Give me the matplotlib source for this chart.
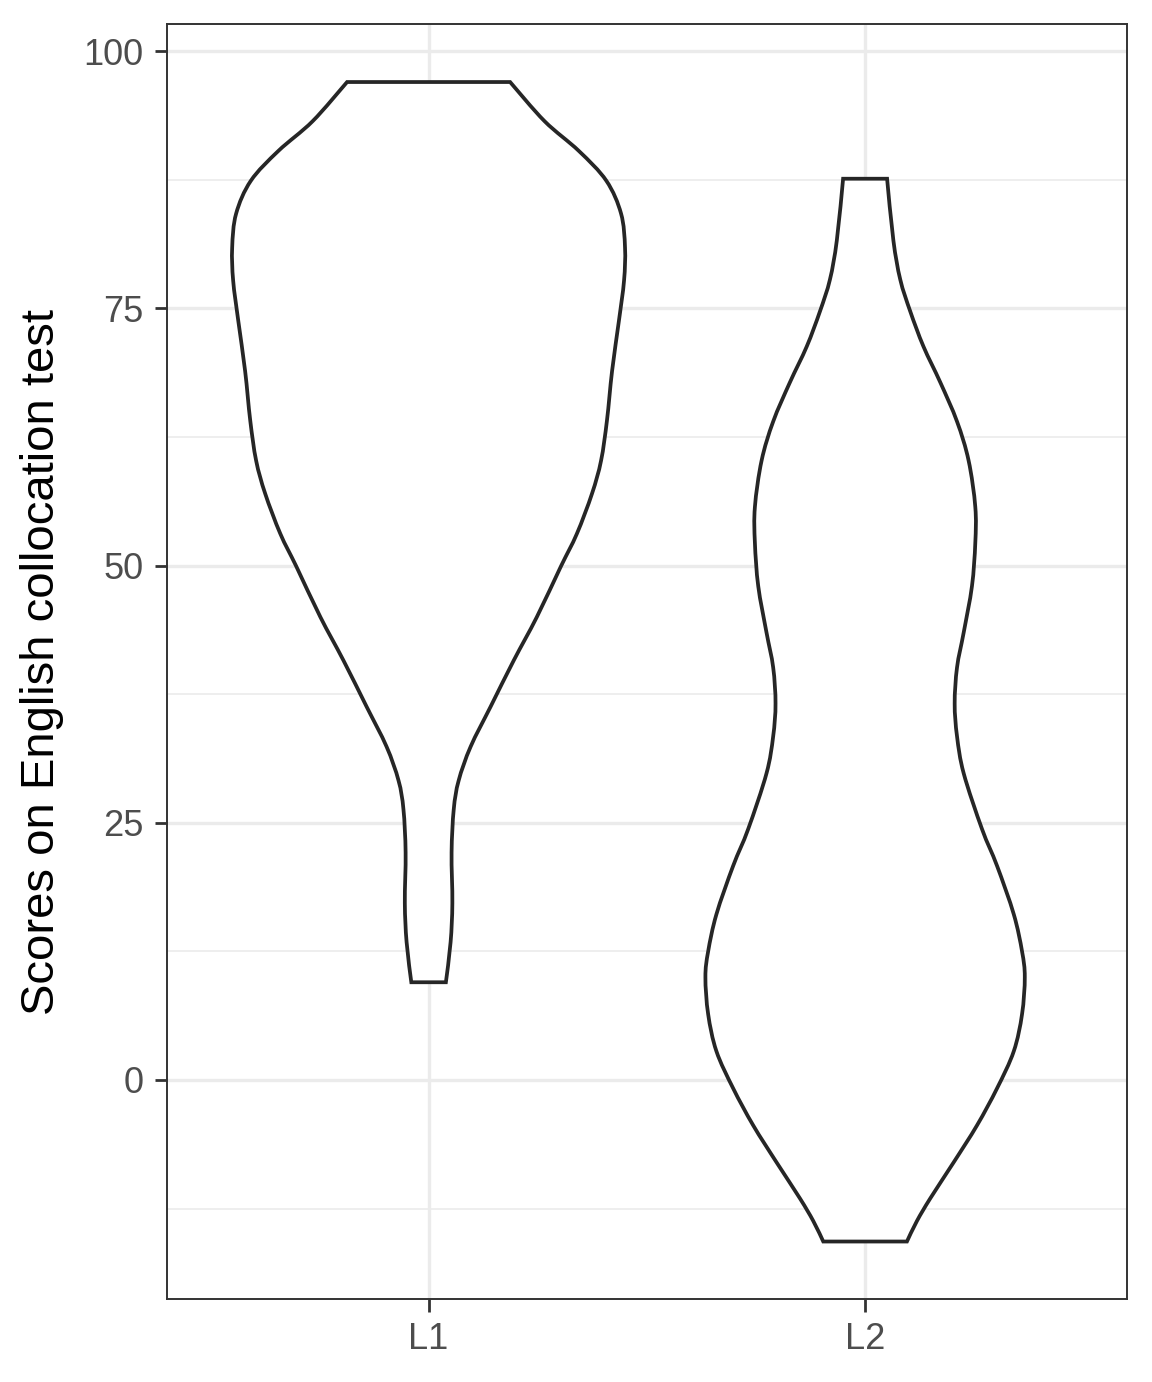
import numpy as np
import matplotlib.pyplot as plt
from matplotlib.path import Path
from matplotlib.patches import PathPatch
from matplotlib.ticker import MultipleLocator

plt.rcParams['font.family'] = ['Liberation Sans', 'DejaVu Sans']

groups = ['L1', 'L2']

# violin outlines: score level and relative density (1 = widest)
l1_score = [97.0, 93.2, 90.3, 87.4, 84.2, 80.9, 77.7, 73.8, 68.9, 64.1, 60.2, 57.0,
            53.1, 49.9, 45.0, 40.8, 36.3, 32.4, 29.1, 26.3, 22.1, 17.2, 13.4, 9.5]
l1_dens = [0.415, 0.590, 0.765, 0.905, 0.980, 1.0, 0.995, 0.969, 0.934, 0.908, 0.878, 0.832,
           0.755, 0.673, 0.551, 0.434, 0.316, 0.214, 0.153, 0.128, 0.117, 0.121, 0.112, 0.088]

l2_score = [87.6, 81.6, 77.8, 74.7, 71.3, 67.8, 64.0, 60.2, 55.7, 52.2, 48.0, 43.5, 40.1,
            36.6, 33.4, 29.8, 24.4, 20.8, 16.1, 12.5, 10.0, 6.4, 2.8, -0.8, -4.4, -8.0,
            -11.5, -13.7, -15.7]
l2_dens = [0.112, 0.144, 0.179, 0.230, 0.297, 0.383, 0.468, 0.527, 0.561, 0.561, 0.544,
           0.502, 0.468, 0.456, 0.468, 0.502, 0.595, 0.672, 0.757, 0.799, 0.813, 0.799,
           0.757, 0.672, 0.570, 0.451, 0.332, 0.264, 0.213]

scores = [l1_score, l2_score]
dens = [l1_dens, l2_dens]


def smooth_side(pts):
    # catmull-rom through the read points, as cubic bezier pieces
    pts = np.asarray(pts, dtype=float)
    ext = np.vstack([pts[0], pts, pts[-1]])
    verts, codes = [], []
    for i in range(1, len(ext) - 2):
        p0, p1, p2, p3 = ext[i - 1], ext[i], ext[i + 1], ext[i + 2]
        verts += [p1 + (p2 - p0) / 6, p2 - (p3 - p1) / 6, p2]
        codes += [Path.CURVE4] * 3
    return verts, codes


fig = plt.figure(figsize=(11.52, 13.82), dpi=100)
ax = fig.add_axes([0.1447, 0.0597, 0.8336, 0.9229])

half = 0.45
for i, (s, d) in enumerate(zip(scores, dens)):
    pos = i + 1
    s = np.array(s)
    w = np.array(d) * half
    right = np.column_stack([pos + w, s])
    left = np.column_stack([pos - w, s])[::-1]
    verts = [right[0]]
    codes = [Path.MOVETO]
    v, c = smooth_side(right)
    verts += v
    codes += c
    verts.append(left[0])
    codes.append(Path.LINETO)
    v, c = smooth_side(left)
    verts += v
    codes += c
    verts.append(right[0])
    codes.append(Path.CLOSEPOLY)
    patch = PathPatch(Path(verts, codes), facecolor='white', edgecolor='#262626',
                      lw=2.7, zorder=3, joinstyle='miter')
    ax.add_patch(patch)

lo = min(min(s) for s in scores)
hi = max(max(s) for s in scores)
pad = (hi - lo) * 0.05
ax.set_ylim(lo - pad, hi + pad)
ax.set_xlim(0.4, 2.6)

ax.set_xticks([1, 2])
ax.set_xticklabels(groups)
ax.yaxis.set_major_locator(MultipleLocator(25))
ax.yaxis.set_minor_locator(MultipleLocator(12.5))
ax.grid(which='major', color='#EBEBEB', lw=2.4, zorder=0)
ax.grid(which='minor', axis='y', color='#EBEBEB', lw=1.2, zorder=0)
ax.set_axisbelow(True)

for sp in ax.spines.values():
    sp.set_color('#333333')
    sp.set_linewidth(1.4)

ax.tick_params(which='major', length=9, width=2.0, color='#333333',
               labelsize=26, labelcolor='#4D4D4D', pad=7.5)
ax.tick_params(which='minor', length=0)
ax.set_ylabel('Scores on English collocation test', fontsize=34, color='black', labelpad=14)

fig.savefig('out.png', dpi=100)
